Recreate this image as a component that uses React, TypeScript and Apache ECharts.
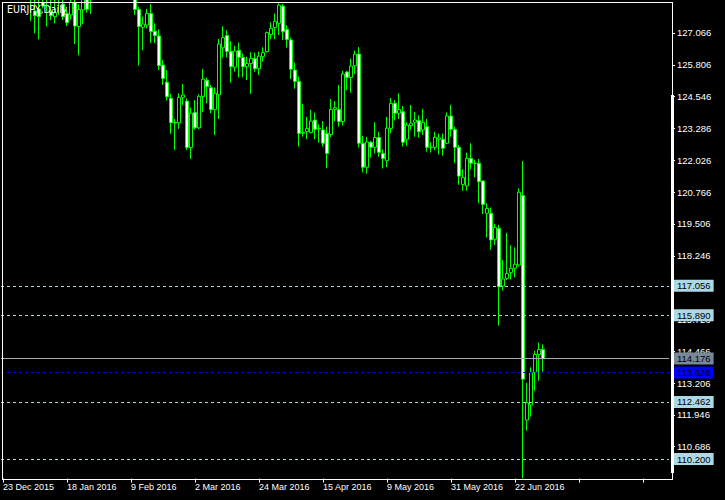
import React, { useEffect, useRef } from "react";
import * as echarts from "echarts";

const chartTitle = "EURJPY,Daily";
const barCount = 136;
const emptySlots = 31;
const holidays = ["2015-12-25", "2016-01-01"];
const monthNames = ["Jan", "Feb", "Mar", "Apr", "May", "Jun", "Jul", "Aug", "Sep", "Oct", "Nov", "Dec"];

const opens = [
  132.7, 133.0, 132.8, 132.5, 132.7, 131.9, 130.6, 129.4, 127.94, 128.02,
  128.27, 128.4, 127.91, 127.71, 128.4, 128.21, 127.84, 127.78, 128.27, 127.32,
  127.98, 128.5, 128.4, 128.9, 129.2, 129.6, 131.9, 131.8, 130.6, 130.9,
  130.6, 130.3, 129.3, 129.0, 128.0, 127.29, 127.38, 127.84, 127.14, 126.95,
  125.8, 125.12, 124.48, 123.53, 123.51, 124.52, 124.37, 122.53, 123.92, 123.31,
  124.55, 125.2, 124.9, 124.03, 124.62, 126.48, 126.97, 126.34, 125.71, 126.38,
  126.1, 125.73, 125.86, 126.06, 125.65, 126.13, 126.33, 127.0, 127.28, 127.45,
  128.13, 127.21, 126.79, 125.6, 125.15, 123.13, 123.16, 123.12, 123.62, 123.29,
  123.23, 123.09, 123.05, 124.04, 124.04, 123.56, 125.52, 125.3, 125.77, 126.23,
  122.7, 121.75, 122.74, 122.54, 122.93, 122.3, 122.01, 123.29, 124.28, 123.89,
  123.95, 122.86, 123.4, 123.53, 123.6, 123.23, 123.36, 122.54, 122.54, 122.86,
  122.86, 122.7, 123.78, 123.25, 122.54, 121.07, 121.01, 122.1, 121.91, 121.91,
  121.21, 119.93, 119.93, 118.9, 119.33, 117.05, 117.35, 117.58, 117.75, 117.88,
  120.63, 111.74, 112.34, 113.62, 114.34, 114.54,
];
const highs = [
  133.2, 133.2, 133.0, 133.2, 132.9, 132.1, 130.8, 129.6, 128.5, 128.4,
  128.6, 128.9, 128.5, 128.4, 129.0, 128.5, 128.0, 128.5, 128.6, 128.2,
  128.6, 128.7, 129.1, 129.5, 129.9, 132.2, 132.3, 131.9, 131.1, 131.3,
  131.0, 130.4, 129.6, 129.3, 128.1, 127.71, 128.02, 128.21, 127.45, 127.21,
  126.0, 125.6, 124.65, 123.66, 124.68, 125.05, 124.48, 124.11, 124.41, 124.64,
  125.64, 125.3, 125.01, 124.91, 126.83, 127.34, 127.18, 126.75, 126.56, 126.68,
  126.26, 126.13, 126.31, 126.29, 126.33, 126.5, 127.12, 127.49, 127.84, 128.24,
  128.21, 127.38, 126.88, 125.89, 125.34, 124.25, 123.75, 124.02, 123.91, 123.45,
  123.58, 123.36, 124.45, 124.37, 125.01, 125.57, 125.57, 126.04, 126.37, 126.51,
  122.99, 122.95, 122.8, 123.54, 123.16, 122.46, 123.75, 124.49, 124.41, 124.68,
  124.18, 123.53, 124.22, 123.94, 123.81, 124.06, 123.66, 122.74, 123.15, 123.09,
  123.09, 123.92, 124.22, 123.36, 122.63, 121.67, 122.33, 122.7, 122.04, 122.08,
  121.21, 120.32, 120.16, 119.5, 119.47, 118.08, 119.15, 118.67, 118.58, 120.92,
  122.0, 113.22, 113.83, 114.48, 114.81, 114.74,
];
const lows = [
  132.4, 132.6, 132.2, 132.3, 131.7, 130.5, 128.6, 127.55, 127.05, 126.81,
  128.04, 127.32, 127.58, 127.45, 127.78, 127.58, 127.34, 127.6, 126.63, 126.18,
  127.42, 127.87, 127.82, 128.5, 128.8, 128.9, 131.2, 130.3, 129.7, 130.1,
  129.9, 128.9, 128.5, 127.78, 125.77, 126.39, 127.25, 126.66, 126.66, 125.6,
  125.01, 124.39, 123.07, 122.43, 123.27, 124.22, 122.43, 122.08, 123.25, 123.26,
  123.94, 124.28, 123.89, 123.03, 123.66, 126.1, 126.1, 125.1, 125.53, 125.31,
  125.31, 125.2, 124.65, 125.53, 125.4, 125.93, 126.29, 126.82, 126.82, 126.99,
  126.79, 126.49, 125.24, 124.86, 122.57, 122.96, 122.86, 123.09, 122.86, 122.72,
  122.57, 121.71, 122.95, 123.58, 123.36, 123.4, 124.81, 124.7, 125.44, 122.53,
  121.55, 121.5, 122.14, 122.3, 122.17, 121.7, 121.75, 123.1, 123.6, 123.66,
  122.57, 122.6, 123.23, 122.96, 122.92, 123.03, 122.37, 122.33, 122.43, 122.26,
  122.21, 122.67, 122.96, 121.91, 121.06, 120.82, 120.82, 121.67, 121.35, 120.32,
  119.9, 118.98, 118.48, 118.67, 115.48, 116.87, 117.29, 117.31, 117.39, 117.82,
  109.43, 111.32, 111.88, 112.91, 113.3, 113.66,
];
const closes = [
  133.0, 132.8, 132.5, 132.7, 131.9, 130.6, 129.4, 128.5, 127.75, 127.71,
  128.13, 128.7, 127.75, 127.87, 128.8, 127.71, 127.47, 128.27, 127.34, 128.0,
  128.5, 128.0, 128.9, 129.2, 129.6, 131.9, 131.8, 130.6, 130.9, 130.6,
  130.3, 129.3, 129.0, 128.0, 127.32, 127.42, 127.84, 127.12, 126.96, 125.77,
  125.26, 124.54, 123.51, 123.5, 124.52, 124.61, 122.53, 123.89, 123.31, 124.56,
  125.24, 124.94, 124.03, 124.68, 126.63, 126.89, 126.33, 125.73, 126.35, 126.1,
  125.73, 125.86, 126.06, 125.65, 126.15, 126.29, 127.08, 127.25, 127.53, 128.17,
  127.12, 126.81, 125.63, 125.15, 123.09, 123.1, 123.29, 123.58, 123.25, 123.27,
  122.7, 122.3, 124.04, 124.11, 123.56, 125.44, 125.3, 125.76, 126.23, 122.7,
  121.75, 122.75, 122.54, 122.93, 122.34, 122.1, 123.3, 124.28, 123.89, 124.04,
  122.74, 123.42, 123.49, 123.62, 123.16, 123.53, 122.54, 122.55, 122.94, 122.91,
  122.5, 123.78, 123.25, 122.54, 121.4, 121.35, 122.1, 121.91, 121.9, 121.18,
  120.28, 120.12, 118.87, 119.37, 117.02, 117.33, 117.55, 117.75, 117.91, 120.76,
  113.36, 112.43, 113.62, 114.34, 114.54, 114.176,
];

const dashedLevels = [117.056, 115.89, 112.462, 110.2];
const bidLevel = 114.176;
const blueLevel = 113.628;

const yMin = 109.426;
const yMax = 128.326;
const yStep = 1.26;
const labelEvery = 16;

const FONT = "'Liberation Sans', Arial, sans-serif";
const TITLE_FONT = "'DejaVu Sans Condensed', 'Liberation Sans Narrow', 'Liberation Sans', sans-serif";

function buildTradingDays(): Date[] {
  const out: Date[] = [];
  const d = new Date(Date.UTC(2015, 11, 23));
  while (out.length < barCount) {
    const wd = d.getUTCDay();
    const iso = d.toISOString().slice(0, 10);
    if (wd !== 0 && wd !== 6 && holidays.indexOf(iso) < 0) out.push(new Date(d.getTime()));
    d.setUTCDate(d.getUTCDate() + 1);
  }
  return out;
}

function fmtDate(d: Date): string {
  return `${d.getUTCDate()} ${monthNames[d.getUTCMonth()]} ${d.getUTCFullYear()}`;
}

export default function App() {
  const ref = useRef<HTMLDivElement>(null);

  useEffect(() => {
    if (!ref.current) return;
    const chart = echarts.init(ref.current, undefined, { renderer: "svg" });
    const days = buildTradingDays();
    const categories: string[] = [];
    for (let i = 0; i < barCount + emptySlots; i++) {
      categories.push(i < barCount ? fmtDate(days[i]) : `slot${i}`);
    }
    const data = opens.map((o, i) => [o, closes[i], lows[i], highs[i]]);

    const lineLabel = (bg: string, fg: string) => ({
      show: true,
      position: "end",
      distance: 5,
      backgroundColor: bg,
      color: fg,
      fontSize: 9.5,
      fontFamily: FONT,
      padding: [1, 3, 1, 3],
      formatter: (p: any) => Number(p.value).toFixed(3),
    });

    const option: any = {
      animation: false,
      backgroundColor: "#000000",
      grid: {
        left: 1,
        top: 1.17,
        width: 668,
        height: 477.4,
        containLabel: false,
        outerBoundsMode: "none",
        show: false,
      },
      xAxis: {
        type: "category",
        data: categories,
        boundaryGap: true,
        axisLine: { show: false },
        axisTick: {
          show: true,
          interval: labelEvery - 1,
          alignWithLabel: true,
          length: 4,
          lineStyle: { color: "#ffffff", width: 1 },
        },
        axisLabel: {
          interval: labelEvery - 1,
          color: "#ffffff",
          fontSize: 9,
          fontFamily: FONT,
          align: "left",
          margin: 4,
          formatter: (v: string, idx: number) => (idx < barCount ? v : ""),
        },
        splitLine: { show: false },
      },
      yAxis: {
        type: "value",
        position: "right",
        offset: 3,
        min: yMin,
        max: yMax,
        interval: yStep,
        scale: true,
        axisLine: { show: false },
        axisTick: { show: true, length: 3, lineStyle: { color: "#ffffff" } },
        axisLabel: {
          color: "#ffffff",
          fontSize: 9.5,
          fontFamily: FONT,
          margin: 5,
          showMinLabel: false,
          showMaxLabel: false,
          formatter: (v: number) => v.toFixed(3),
        },
        splitLine: { show: false },
      },
      series: [
        {
          type: "candlestick",
          data,
          barWidth: 3,
          clip: true,
          itemStyle: {
            color: "#000000",
            color0: "#ffffff",
            borderColor: "#00ff00",
            borderColor0: "#00ff00",
            borderColorDoji: "#00ff00",
            borderWidth: 1,
          },
          markLine: {
            silent: true,
            symbol: ["none", "none"],
            precision: 3,
            animation: false,
            data: [
              ...dashedLevels.map((v) => ({
                yAxis: v,
                lineStyle: { color: "#add8e6", type: [3, 3], width: 1 },
                label: lineLabel("#add8e6", "#000000"),
              })),
              {
                yAxis: bidLevel,
                lineStyle: { color: "#a3abb2", type: "solid", width: 1 },
                label: lineLabel("#778899", "#000000"),
              },
              {
                yAxis: blueLevel,
                lineStyle: { color: "#0000ff", type: [3, 3], width: 1 },
                label: lineLabel("#0000ff", "#000000"),
              },
            ],
          },
        },
      ],
      graphic: [
        { type: "rect", z: 50, shape: { x: 2, y: 2, width: 671, height: 1 }, style: { fill: "#ffffff" }, silent: true },
        { type: "rect", z: 50, shape: { x: 2, y: 2, width: 1, height: 478 }, style: { fill: "#ffffff" }, silent: true },
        { type: "rect", z: 50, shape: { x: 672, y: 2, width: 1, height: 478 }, style: { fill: "#ffffff" }, silent: true },
        { type: "rect", z: 50, shape: { x: 2, y: 479, width: 671, height: 1 }, style: { fill: "#ffffff" }, silent: true },
        { type: "rect", z: 50, shape: { x: 671, y: 95, width: 3, height: 378 }, style: { fill: "#ffffff" }, silent: true },
        {
          type: "text",
          z: 100,
          left: 7,
          top: 3,
          style: { text: chartTitle, fill: "#ffffff", fontSize: 10.5, fontFamily: TITLE_FONT },
          silent: true,
        },
      ],
    };
    chart.setOption(option);
    return () => chart.dispose();
  }, []);

  return (
    <div
      ref={ref}
      style={{ position: "absolute", left: 0, top: 0, width: 725, height: 500, background: "#000" }}
    />
  );
}
